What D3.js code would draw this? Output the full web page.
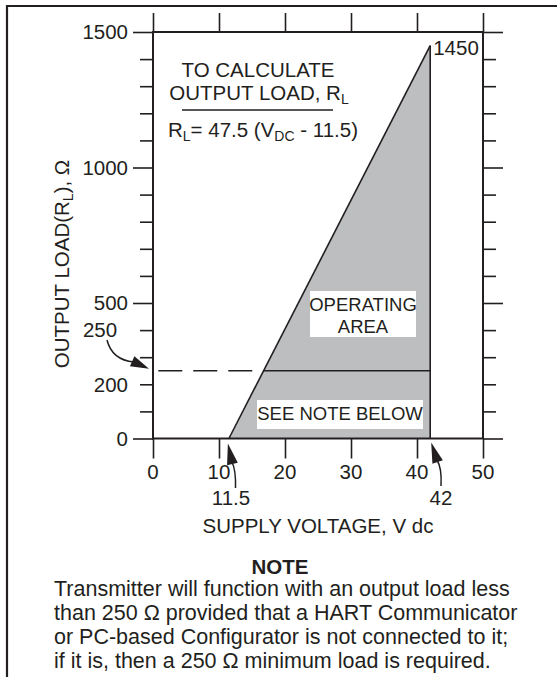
<!DOCTYPE html>
<html>
<head>
<meta charset="utf-8">
<script src="https://cdn.jsdelivr.net/npm/d3@7"></script>
<style>
  body { margin: 0; background: #fff; }
  svg { display: block; font-family: "Liberation Sans", Arial, Helvetica, sans-serif; }
  text { fill: #231f20; }
</style>
</head>
<body>
<div id="chart"></div>
<script>
const width = 557;
const height = 677;

// data
const voltTicks = [0, 10, 20, 30, 40, 50];
const loadLabels = [0, 200, 500, 1000, 1500];
const loadMajor = [0, 500, 1000, 1500];
const loadMinor = [100, 200, 300, 400, 600, 700, 800, 900, 1100, 1200, 1300, 1400];
const areaVolts = [11.5, 42, 42];
const areaLoads = [0, 1450, 0];
const hartLoad = 250;
const hartVolts = [16.76, 42];   // solid part of the 250 ohm line
const dashVolts = [0.8, 16.76];  // dashed part, to the left of the slope
const noteLines = [
    "Transmitter will function with an output load less",
    "than 250 \u03A9 provided that a HART Communicator",
    "or PC-based Configurator is not connected to it;",
    "if it is, then a 250 \u03A9 minimum load is required."
];

const ink = "#231f20";

const svg = d3.select("#chart")
    .append("svg")
    .attr("width", width)
    .attr("height", height);

const x = d3.scaleLinear().domain([0, 50]).range([153, 483]);
const y = d3.scaleLinear().domain([0, 1500]).range([438.5, 32]);

// page frame (top and left rule of the figure box)
svg.append("path")
    .attr("d", `M7,677 V6 H${width}`)
    .attr("fill", "none").attr("stroke", ink).attr("stroke-width", 2.2);

// operating area
const area = areaVolts.map((v, i) => [x(v), y(areaLoads[i])]);
svg.append("path")
    .attr("d", d3.line()(area) + "Z")
    .attr("fill", "#bcbec0")
    .attr("stroke", "none");

svg.append("path")
    .attr("d", d3.line()(area.slice(0, 2)))
    .attr("stroke", ink).attr("stroke-width", 1.6).attr("fill", "none");
svg.append("line")
    .attr("x1", x(areaVolts[1])).attr("x2", x(areaVolts[1]))
    .attr("y1", y(areaLoads[1])).attr("y2", y(0))
    .attr("stroke", ink).attr("stroke-width", 1.6);

svg.append("line")
    .attr("x1", x(hartVolts[0])).attr("x2", x(hartVolts[1]))
    .attr("y1", y(hartLoad)).attr("y2", y(hartLoad))
    .attr("stroke", ink).attr("stroke-width", 1.6);
svg.append("line")
    .attr("x1", x(dashVolts[0])).attr("x2", x(dashVolts[1]))
    .attr("y1", y(hartLoad)).attr("y2", y(hartLoad))
    .attr("stroke", ink).attr("stroke-width", 1.4)
    .attr("stroke-dasharray", "24,11");

// white label boxes
function boxLabel(lines, cx, top, w, h, size) {
    svg.append("rect")
        .attr("x", cx - w / 2).attr("y", top)
        .attr("width", w).attr("height", h)
        .attr("fill", "#fff");
    lines.forEach((t, i) => {
        svg.append("text")
            .attr("x", cx).attr("y", top + size + 1 + i * 22)
            .attr("text-anchor", "middle")
            .attr("font-size", size)
            .text(t);
    });
}
boxLabel(["OPERATING", "AREA"], 363, 291, 106, 46, 18.5);
boxLabel(["SEE NOTE BELOW"], 340, 400, 166, 29, 18.5);

// axes
const tickStyle = g => {
    g.select(".domain").remove();
    g.selectAll(".tick line").attr("stroke", ink).attr("stroke-width", 1.6);
    g.selectAll(".tick text").remove();
};

svg.append("g")
    .attr("transform", `translate(0,${y(0)})`)
    .call(d3.axisBottom(x).tickValues(voltTicks).tickSize(20).tickSizeOuter(0))
    .call(tickStyle);
svg.append("g")
    .attr("transform", `translate(0,${y(1500)})`)
    .call(d3.axisTop(x).tickValues(voltTicks).tickSize(19).tickSizeOuter(0))
    .call(tickStyle);

[[d3.axisLeft, x(0)], [d3.axisRight, x(50)]].forEach(([axis, pos]) => {
    svg.append("g")
        .attr("transform", `translate(${pos},0)`)
        .call(axis(y).tickValues(loadMinor).tickSize(13).tickSizeOuter(0))
        .call(tickStyle);
    svg.append("g")
        .attr("transform", `translate(${pos},0)`)
        .call(axis(y).tickValues(loadMajor).tickSize(20).tickSizeOuter(0))
        .call(tickStyle);
});

svg.append("rect")
    .attr("x", x(0)).attr("y", y(1500))
    .attr("width", x(50) - x(0)).attr("height", y(0) - y(1500))
    .attr("fill", "none").attr("stroke", ink).attr("stroke-width", 2);

// tick labels
svg.selectAll(".ylab")
    .data(loadLabels)
    .join("text")
    .attr("x", 128)
    .attr("y", d => y(d))
    .attr("dy", "0.36em")
    .attr("text-anchor", "end")
    .attr("font-size", 20.5)
    .text(d => d);

svg.selectAll(".xlab")
    .data(voltTicks)
    .join("text")
    .attr("x", d => x(d))
    .attr("y", 479)
    .attr("text-anchor", "middle")
    .attr("font-size", 20.5)
    .text(d => d);

svg.append("text")
    .attr("x", x(areaVolts[1]) + 3).attr("y", y(areaLoads[1]) + 9)
    .attr("font-size", 20.5)
    .text(areaLoads[1]);

// callout arrows
function arrow(p0, c, p1, tip) {
    svg.append("path")
        .attr("d", `M${p0[0]},${p0[1]} Q${c[0]},${c[1]} ${p1[0]},${p1[1]}`)
        .attr("fill", "none").attr("stroke", ink).attr("stroke-width", 1.5);
    const dx = tip[0] - p1[0], dy = tip[1] - p1[1];
    const len = Math.hypot(dx, dy);
    const nx = -dy / len * 5.5, ny = dx / len * 5.5;
    const bx = p1[0] - dx / len * 2, by = p1[1] - dy / len * 2;
    svg.append("path")
        .attr("d", `M${tip[0]},${tip[1]} L${bx + nx},${by + ny} L${bx - nx},${by - ny} Z`)
        .attr("fill", ink);
}
arrow([235.5, 488], [236, 470], [232, 462], [x(areaVolts[0]) - 1, y(0) + 5]);
arrow([441, 486], [442, 468], [437, 460], [x(areaVolts[1]) + 1, y(0) + 4]);
arrow([107, 340], [112, 360], [134, 362], [149, y(hartLoad) - 2]);

svg.append("text")
    .attr("x", 231).attr("y", 505)
    .attr("text-anchor", "middle").attr("font-size", 20.5)
    .text(areaVolts[0]);
svg.append("text")
    .attr("x", 441).attr("y", 505)
    .attr("text-anchor", "middle").attr("font-size", 20.5)
    .text(areaVolts[1]);
svg.append("text")
    .attr("x", 100).attr("y", 337)
    .attr("text-anchor", "middle").attr("font-size", 20.5)
    .text(hartLoad);

// axis titles
svg.append("text")
    .attr("x", (x(0) + x(50)) / 2).attr("y", 533)
    .attr("text-anchor", "middle").attr("font-size", 20.5)
    .text("SUPPLY VOLTAGE, V dc");

const yTitle = svg.append("text")
    .attr("transform", "translate(69,264) rotate(-90)")
    .attr("text-anchor", "middle").attr("font-size", 20.5);
yTitle.append("tspan").text("OUTPUT LOAD(R");
yTitle.append("tspan").attr("font-size", 14).attr("dy", 4).text("L");
yTitle.append("tspan").attr("dy", -4).text("), \u03A9");

// formula block
svg.append("text")
    .attr("x", 258).attr("y", 77)
    .attr("text-anchor", "middle").attr("font-size", 20.5)
    .text("TO CALCULATE");
const t2 = svg.append("text")
    .attr("x", 259).attr("y", 100)
    .attr("text-anchor", "middle").attr("font-size", 20.5);
t2.append("tspan").text("OUTPUT LOAD, R");
t2.append("tspan").attr("font-size", 14).attr("dy", 4).text("L");
svg.append("line")
    .attr("x1", 182).attr("x2", 333).attr("y1", 110).attr("y2", 110)
    .attr("stroke", ink).attr("stroke-width", 1.5);
const f = svg.append("text")
    .attr("x", 263).attr("y", 137)
    .attr("text-anchor", "middle").attr("font-size", 20.5);
f.append("tspan").text("R");
f.append("tspan").attr("font-size", 14).attr("dy", 4).text("L");
f.append("tspan").attr("dy", -4).text("= 47.5 (V");
f.append("tspan").attr("font-size", 14).attr("dy", 4).text("DC");
f.append("tspan").attr("dy", -4).text(" - 11.5)");

// note
svg.append("text")
    .attr("x", 280).attr("y", 574)
    .attr("text-anchor", "middle")
    .attr("font-size", 20.5).attr("font-weight", "bold")
    .text("NOTE");
svg.selectAll(".note")
    .data(noteLines)
    .join("text")
    .attr("x", 54)
    .attr("y", (d, i) => 596 + i * 24)
    .attr("font-size", 21.5)
    .text(d => d);
</script>
</body>
</html>
